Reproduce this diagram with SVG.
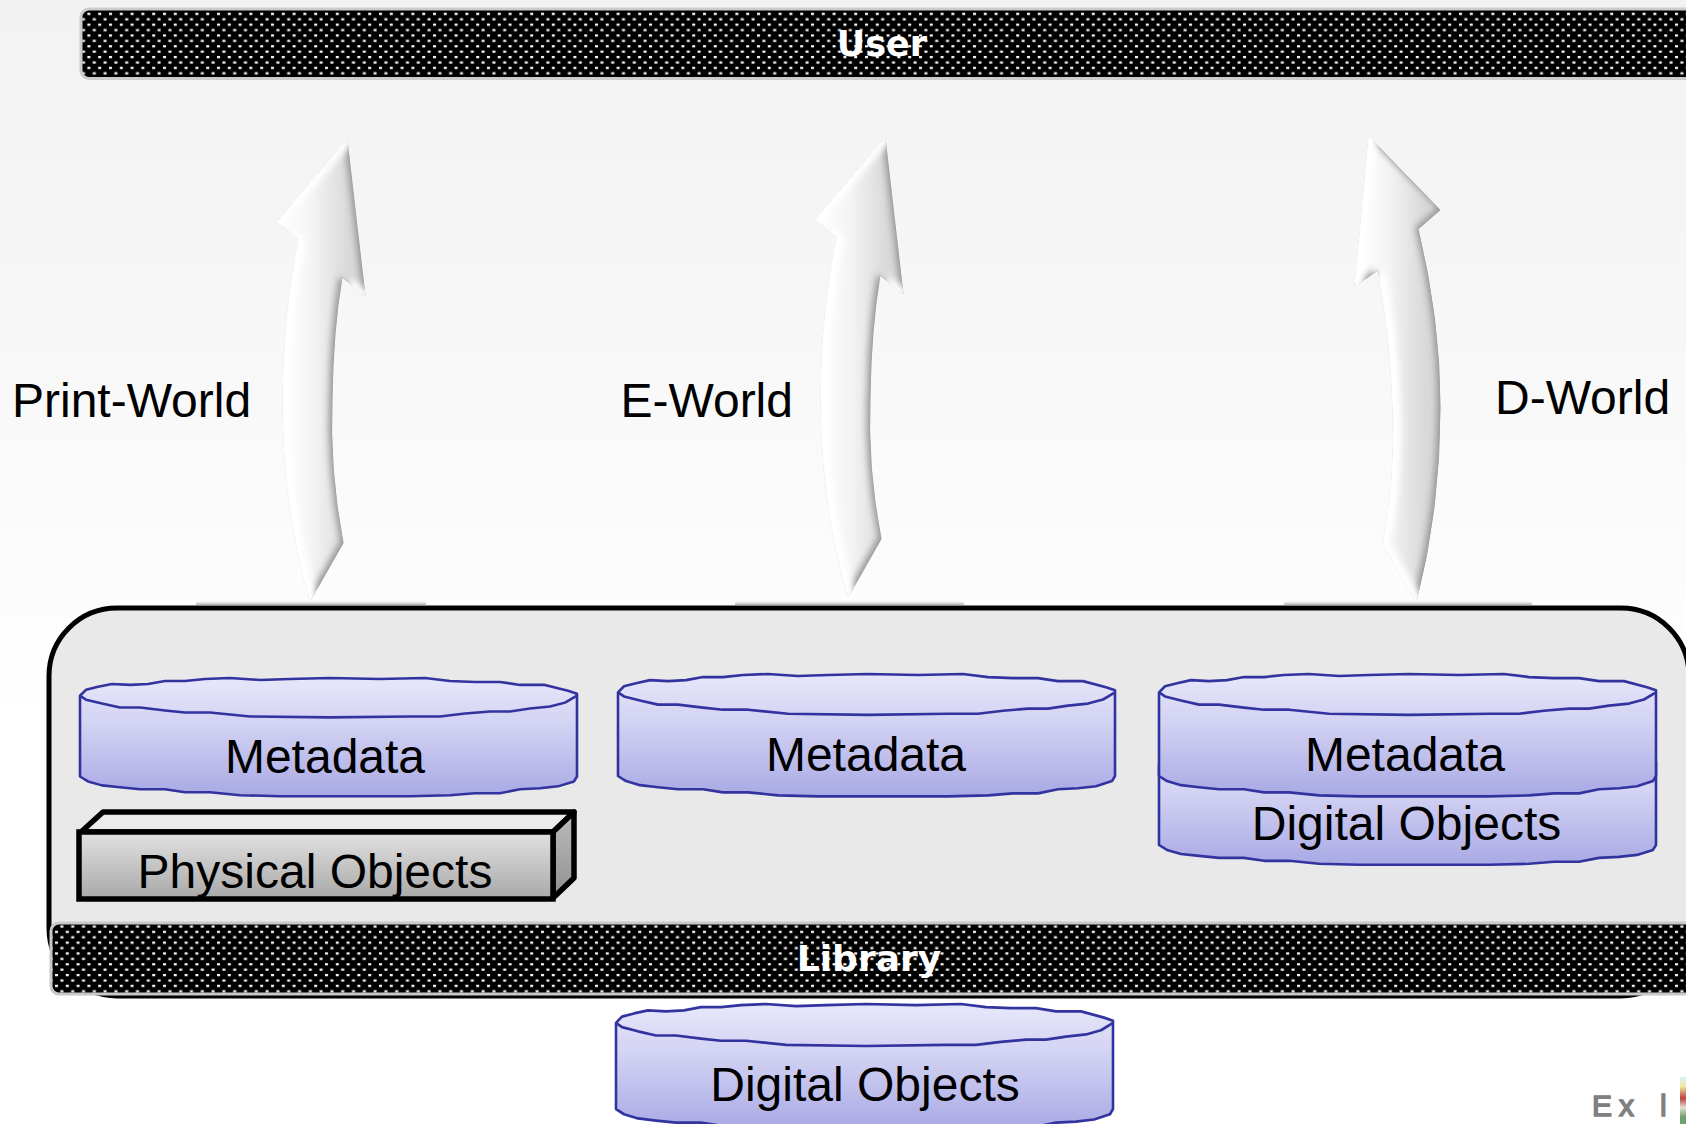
<svg xmlns="http://www.w3.org/2000/svg" width="1686" height="1124" viewBox="0 0 1686 1124">
<style>
.lbl{font-family:"Liberation Sans",Arial,sans-serif;font-size:48px;fill:#000}
.mid{text-anchor:middle}
.bar{font-family:"DejaVu Sans",Verdana,sans-serif;font-weight:bold;font-size:35px;fill:#fff;text-anchor:middle}
.cyl{fill:url(#cylG);stroke:#3333a0;stroke-width:2.6;stroke-linejoin:round}
.cyl2{fill:none;stroke:#3333a0;stroke-width:2.6;stroke-linejoin:round}
.arrow{fill:url(#arG);stroke:#c9c9c9;stroke-width:1;filter:url(#bevel)}
.gap{fill:url(#gapG)}
</style>
<defs>
<linearGradient id="bg" x1="0" y1="0" x2="0" y2="1"><stop offset="0" stop-color="#f2f2f2"/><stop offset="0.3" stop-color="#f5f5f5"/><stop offset="1" stop-color="#ffffff"/></linearGradient>
<linearGradient id="cylG" x1="0" y1="0" x2="0" y2="1"><stop offset="0" stop-color="#e7e7fb"/><stop offset="0.4" stop-color="#d2d2f3"/><stop offset="1" stop-color="#a9a9e5"/></linearGradient>
<linearGradient id="boxG" x1="0" y1="0" x2="0" y2="1"><stop offset="0" stop-color="#e2e2e2"/><stop offset="1" stop-color="#a8a8a8"/></linearGradient>
<linearGradient id="sideG" x1="0" y1="0" x2="0" y2="1"><stop offset="0" stop-color="#bcbcbc"/><stop offset="1" stop-color="#909090"/></linearGradient>
<linearGradient id="arG" x1="0" y1="0" x2="1" y2="0"><stop offset="0" stop-color="#ffffff"/><stop offset="0.4" stop-color="#f4f4f4"/><stop offset="0.8" stop-color="#dadada"/><stop offset="1" stop-color="#d6d6d6"/></linearGradient>
<linearGradient id="gapG" x1="0" y1="0" x2="0" y2="1"><stop offset="0" stop-color="#ffffff" stop-opacity="0"/><stop offset="1" stop-color="#808080"/></linearGradient>
<linearGradient id="logoG" x1="0" y1="0" x2="0" y2="1"><stop offset="0" stop-color="#d4f4f8"/><stop offset="0.2" stop-color="#f4e8a0"/><stop offset="0.45" stop-color="#b84040"/><stop offset="0.65" stop-color="#e8e0d0"/><stop offset="0.85" stop-color="#70a070"/><stop offset="1" stop-color="#70a070"/></linearGradient>
<filter id="bevel" x="-20%" y="-5%" width="140%" height="110%">
<feGaussianBlur in="SourceAlpha" stdDeviation="3" result="b"/>
<feOffset in="b" dx="-4" dy="-2" result="o"/>
<feComposite in="SourceAlpha" in2="o" operator="out" result="edge"/>
<feFlood flood-color="#9a9a9a" flood-opacity="1"/>
<feComposite in2="edge" operator="in" result="dark"/>
<feOffset in="b" dx="8" dy="0" result="o2"/>
<feComposite in="SourceAlpha" in2="o2" operator="out" result="edge2"/>
<feFlood flood-color="#ffffff"/>
<feComposite in2="edge2" operator="in" result="lite"/>
<feMerge><feMergeNode in="SourceGraphic"/><feMergeNode in="dark"/><feMergeNode in="lite"/></feMerge>
</filter>
<pattern id="dots" width="21.6" height="21.6" patternUnits="userSpaceOnUse">
<rect width="21.6" height="21.6" fill="#000"/>
<g fill="#fff">
<rect x="1" y="2" width="3" height="2.2"/><rect x="11.8" y="2" width="3" height="2.2"/>
<rect x="6.4" y="7.4" width="3" height="2.2"/><rect x="17.2" y="7.4" width="3" height="2.2"/>
<rect x="1" y="12.8" width="3" height="2.2"/><rect x="11.8" y="12.8" width="3" height="2.2"/>
<rect x="6.4" y="18.2" width="3" height="2.2"/><rect x="17.2" y="18.2" width="3" height="2.2"/>
</g>
</pattern>
<path id="cylBody" d="M0,18 L6,12 L18,9 L32,6 L50,7 L68,6 L85,3 L105,3 L125,1 L150,0 L180,2 L210,1 L250,0 L300,1 L345,0 L370,3 L395,4 L420,4 L440,7 L465,7 L488,13 L497,16 L497,100 L494,105 L478,110 L460,112 L440,113 L420,117 L395,117 L370,119 L330,120 L200,120 L160,119 L130,116 L105,116 L85,113 L60,113 L40,111 L22,109 L8,105 L0,100 Z"/>
<path id="cylTop" d="M0,18 L6,22 L22,26 L40,30 L60,30 L85,33 L105,35 L130,35 L170,39 L250,40 L330,39 L360,39 L385,36 L410,34 L430,34 L450,31 L470,29 L485,25 L497,18"/>
</defs>
<rect id="background" width="1686" height="1124" fill="#ffffff"/>
<rect width="1686" height="720" fill="url(#bg)"/>

<g id="library">
<rect x="49" y="608" width="1640" height="388" rx="68" ry="68" fill="#e9e9e9" stroke="#000" stroke-width="5"/>
<rect class="gap" x="196" y="600" width="230" height="6"/>
<rect class="gap" x="735" y="600" width="229" height="6"/>
<rect class="gap" x="1284" y="600" width="248" height="6"/>
<rect x="51" y="923" width="1660" height="71" rx="8" fill="url(#dots)" stroke="#c8c8c8" stroke-width="3"/>
<text class="bar" x="869" y="971" style="font-size:36px">Library</text>
</g>

<g id="user">
<rect x="81" y="9" width="1640" height="69.500" rx="8" fill="url(#dots)" stroke="#cccccc" stroke-width="3"/>
<text class="bar" x="882" y="56">User</text>
</g>

<g id="connectors">
<path id="arrow-print" class="arrow" d="M347,140 L277,222 L299,239 Q284,310 283,397 Q283,510 310,601 L343,543 Q329,470 332,397 Q333,330 342,277 L365,296 Z"/>
<path id="arrow-e" class="arrow" d="M885,138 L815,220 L837,237 Q822,308 821,395 Q821,505 848,597 L881,539 Q867,468 870,395 Q871,328 880,275 L903,294 Z"/>
<path id="arrow-d" class="arrow" d="M1369,137 L1440,210 L1418,229 Q1440,320 1440,407 Q1440,510 1416,602 L1383,543 Q1396,480 1393,407 Q1390,330 1378,270 L1355,286 Z"/>
</g>

<g id="label-print"><text class="lbl" x="12" y="417">Print-World</text></g>
<g id="label-e"><text class="lbl" x="620.500" y="417">E-World</text></g>
<g id="label-d"><text class="lbl" x="1495" y="413.500">D-World</text></g>

<g id="metadata-print">
<use href="#cylBody" class="cyl" transform="translate(80,678) scale(1,.985)"/>
<use href="#cylTop" class="cyl2" transform="translate(80,678) scale(1,.985)"/>
<text class="lbl mid" x="325" y="773">Metadata</text>
</g>
<g id="physical-objects">
<path d="M81,832 L103,812 L574,812 L553,832 Z" fill="#ececec" stroke="#000" stroke-width="5.500" stroke-linejoin="round"/>
<path d="M553,832 L574,812 L574,878 L553,898 Z" fill="url(#sideG)" stroke="#000" stroke-width="5.500" stroke-linejoin="round"/>
<rect x="79" y="832" width="474" height="67" fill="url(#boxG)" stroke="#000" stroke-width="5.500"/>
<text class="lbl mid" x="315" y="888">Physical Objects</text>
</g>
<g id="metadata-e">
<use href="#cylBody" class="cyl" transform="translate(618,674) scale(1,1.02)"/>
<use href="#cylTop" class="cyl2" transform="translate(618,674) scale(1,1.02)"/>
<text class="lbl mid" x="866" y="771">Metadata</text>
</g>
<g id="digital-objects-d">
<use href="#cylBody" class="cyl" transform="translate(1159,746) scale(1,.99)"/>
<text class="lbl mid" x="1406.500" y="840">Digital Objects</text>
</g>
<g id="metadata-d">
<use href="#cylBody" class="cyl" transform="translate(1159,674) scale(1,1.02)"/>
<use href="#cylTop" class="cyl2" transform="translate(1159,674) scale(1,1.02)"/>
<text class="lbl mid" x="1405" y="771">Metadata</text>
</g>
<g id="digital-objects">
<use href="#cylBody" class="cyl" transform="translate(616,1004) scale(1,1.05)"/>
<use href="#cylTop" class="cyl2" transform="translate(616,1004) scale(1,1.05)"/>
<text class="lbl mid" x="865" y="1101">Digital Objects</text>
</g>
<g id="logo">
<rect x="1680" y="1077" width="6" height="47" fill="url(#logoG)"/>
<text x="1592 1619 1660" y="1116" style="font-family:'Liberation Sans',Arial,sans-serif;font-size:30px;fill:#808080;stroke:#808080;stroke-width:1.5">Exl</text>
</g>
</svg>
